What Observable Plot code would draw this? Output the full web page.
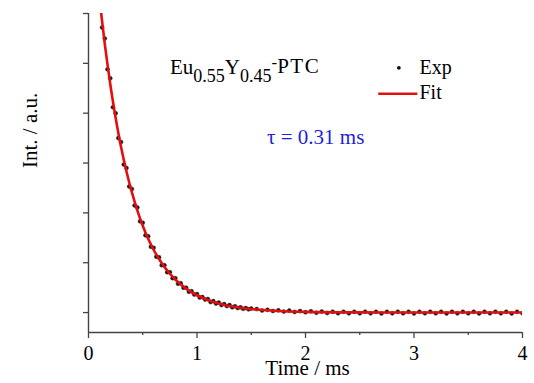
<!DOCTYPE html>
<html><head><meta charset="utf-8">
<script src="https://cdn.jsdelivr.net/npm/d3@7"></script>
<script src="https://cdn.jsdelivr.net/npm/@observablehq/plot@0.6"></script>
<style>body{margin:0;background:#fff;} svg{display:block}</style>
</head><body><div id="chart"></div>
<script>
// Experimental decay (time in ms, intensity in a.u.)
const expTime = [0.125,0.15,0.175,0.2,0.225,0.25,0.275,0.3,0.325,0.35,0.375,0.4,0.425,0.45,0.475,0.5,0.525,0.55,0.575,0.6,0.625,0.65,0.675,0.7,0.725,0.75,0.775,0.8,0.825,0.85,0.875,0.9,0.925,0.95,0.975,1.0,1.025,1.05,1.075,1.1,1.125,1.15,1.175,1.2,1.225,1.25,1.275,1.3,1.325,1.35,1.375,1.4,1.425,1.45,1.475,1.5,
  1.55,1.6,1.65,1.7,1.75,1.8,1.85,1.9,1.95,2.0,2.05,2.1,2.15,2.2,2.25,2.3,2.35,2.4,2.45,2.5,2.55,2.6,2.65,2.7,2.75,2.8,2.85,2.9,2.95,3.0,3.05,3.1,3.15,3.2,3.25,3.3,3.35,3.4,3.45,3.5,3.55,3.6,3.65,3.7,3.75,3.8,3.85,3.9,3.95,4.0];
const expInt = [5.72,5.50,4.88,4.70,4.12,4.00,3.50,3.42,2.97,2.90,2.53,2.48,2.15,2.11,1.83,1.80,1.55,1.53,1.32,1.30,1.12,1.11,0.95,0.95,0.81,0.81,0.69,0.69,0.58,0.59,0.50,0.50,0.42,0.43,0.36,0.37,0.30,0.31,0.26,0.27,0.21,0.23,0.18,0.20,0.15,0.17,0.13,0.15,0.105,0.125,0.09,0.105,0.075,0.09,0.065,0.08,
  0.07,0.04,0.055,0.03,0.045,0.02,0.04,0.012,0.03,0.005,0.025,-0.005,0.02,-0.01,0.018,-0.014,0.018,-0.016,0.016,-0.016,0.018,-0.016,0.016,-0.018,0.016,-0.016,0.018,-0.016,0.016,-0.018,0.016,-0.016,0.018,-0.016,0.016,-0.018,0.016,-0.016,0.018,-0.016,0.016,-0.018,0.016,-0.016,0.018,-0.016,0.016,-0.018,0.016,-0.016];
// Fit curve (single exponential, tau = 0.31 ms)
const fitTime = [0.117,0.125,0.15,0.175,0.2,0.25,0.3,0.35,0.4,0.45,0.5,0.55,0.6,0.65,0.7,0.8,0.9,1.0,1.1,1.2,1.4,1.6,1.8,2.0,2.5,3.0,3.5,4.0];
const fitInt  = [6.0,5.85,5.39,4.98,4.59,3.91,3.32,2.83,2.41,2.05,1.74,1.48,1.26,1.075,0.915,0.663,0.480,0.347,0.252,0.182,0.096,0.050,0.026,0.014,0.003,0.0,0.0,0.0];
const xMajor = [0,1,2,3,4];
const xMinor = [0.5,1.5,2.5,3.5];
const yTicks = [0,1,2,3,4,5,6];

const expData = expTime.map((t,i)=>({t, v: expInt[i]}));
const fitData = fitTime.map((t,i)=>({t, v: fitInt[i]}));
const font = "'Liberation Serif','Times New Roman',serif";
const axisColor = "#444";

const plot = Plot.plot({
  width:534, height:383,
  marginLeft:88, marginRight:12, marginTop:13, marginBottom:51,
  style:{fontFamily:font, fontSize:"20px", color:"#000", background:"#fff"},
  x:{domain:[0,4]},
  y:{domain:[-0.4,6]},
  marks:[
    Plot.ruleX([0], {stroke:axisColor, strokeWidth:1.4}),
    Plot.ruleY([-0.4], {stroke:axisColor, strokeWidth:1.4}),
    Plot.axisY({ticks:yTicks, tickSize:5, tickFormat:()=>"", label:null, stroke:axisColor, strokeWidth:1.3}),
    Plot.axisX({ticks:xMajor, tickSize:6, tickPadding:7, fontSize:20, fontFamily:font, tickFormat:d3.format("d"), label:null, stroke:axisColor, strokeWidth:1.3, fill:"#000"}),
    Plot.axisX({ticks:xMinor, tickSize:3, tickFormat:()=>"", label:null, stroke:axisColor, strokeWidth:1.3}),
    Plot.dot(expData, {x:"t", y:"v", r:2, fill:"#111", stroke:"#333", strokeWidth:0.5, clip:true}),
    Plot.line(fitData, {x:"t", y:"v", stroke:"#e01010", strokeWidth:2.6, curve:"monotone-x", clip:true}),
    Plot.text(["Time / ms"], {frameAnchor:"bottom", lineAnchor:"bottom", dy:42, dx:2, fontSize:21, fontFamily:font, fill:"#000"}),
    Plot.text(["Int. / a.u."], {frameAnchor:"left", lineAnchor:"bottom", rotate:-90, dx:-52, dy:-5, fontSize:21, fontFamily:font, fill:"#000"})
  ]
});
document.getElementById("chart").appendChild(plot);

// Annotations placed in data coordinates
const sx = plot.scale("x"), sy = plot.scale("y");
const svg = d3.select(plot);
const g = svg.append("g").attr("font-family", font).attr("fill", "#000").attr("text-anchor", "start");

const lab = g.append("text").attr("x", sx.apply(0.756)).attr("y", sy.apply(4.78)).attr("font-size", 21);
lab.append("tspan").text("Eu");
lab.append("tspan").attr("font-size", 18).attr("dy", 8).text("0.55");
lab.append("tspan").attr("dy", -8).text("Y");
lab.append("tspan").attr("font-size", 18).attr("dy", 8).text("0.45");
lab.append("tspan").attr("font-size", 17).attr("dy", -14).text("-");
lab.append("tspan").attr("dy", 5).attr("letter-spacing", 1.5).text("PTC");

// legend
g.append("circle").attr("cx", sx.apply(2.865)).attr("cy", sy.apply(4.90)).attr("r", 1.9).attr("fill", "#111");
g.append("text").attr("x", sx.apply(3.055)).attr("y", sy.apply(4.78)).attr("font-size", 20).text("Exp");
g.append("line").attr("x1", sx.apply(2.675)).attr("x2", sx.apply(3.035))
  .attr("y1", sy.apply(4.38)).attr("y2", sy.apply(4.38)).attr("stroke", "#e01010").attr("stroke-width", 2.6);
g.append("text").attr("x", sx.apply(3.055)).attr("y", sy.apply(4.28)).attr("font-size", 20).text("Fit");

// lifetime
g.append("text").attr("x", sx.apply(1.650)).attr("y", sy.apply(3.38)).attr("font-size", 21)
  .attr("fill", "#1f1fd6").text("τ = 0.31 ms");
</script>
</body></html>
